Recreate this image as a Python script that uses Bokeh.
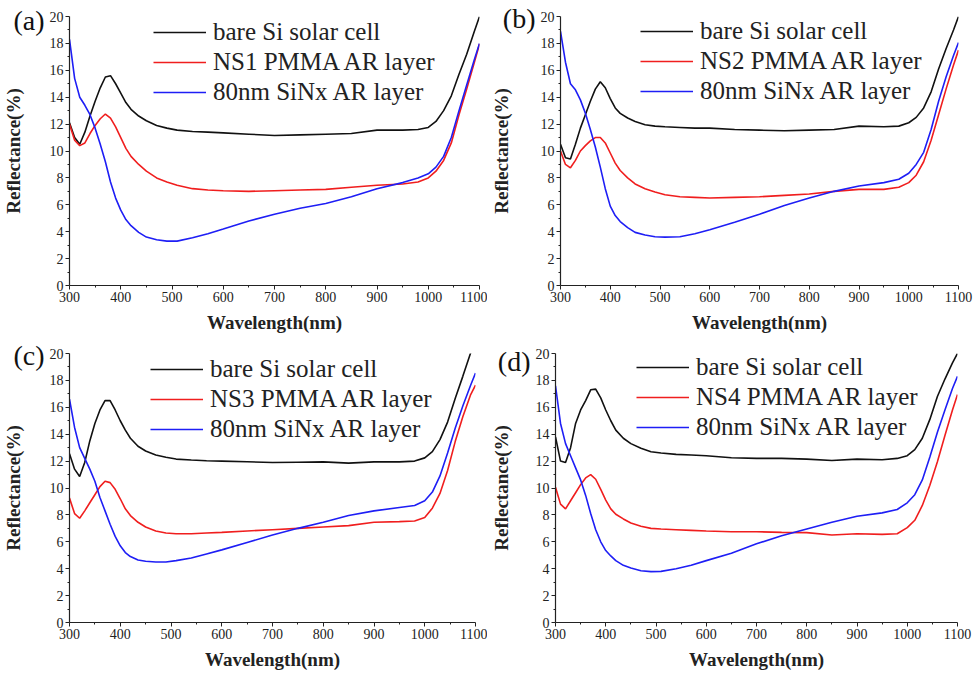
from bokeh.plotting import figure
from bokeh.models import Range1d, FixedTicker, Legend, LegendItem, LinearAxis
from bokeh.layouts import column, row
from bokeh.embed import file_html
from bokeh.resources import INLINE

# ---------------- data ----------------
WL = [300, 310, 320, 330, 340, 350, 360, 370, 380, 390,
      400, 410, 420, 435, 450, 470, 490, 510, 540, 570,
      600, 650, 700, 750, 800, 850, 900, 950, 980, 1000,
      1015, 1030, 1045, 1060, 1075, 1090, 1100]

X_TICKS = [300, 400, 500, 600, 700, 800, 900, 1000, 1100]
X_MINOR = [350, 450, 550, 650, 750, 850, 950, 1050]
Y_TICKS = [0, 2, 4, 6, 8, 10, 12, 14, 16, 18, 20]
Y_MINOR = [1, 3, 5, 7, 9, 11, 13, 15, 17, 19]

LABEL_BARE = "bare Si solar cell"
LABEL_SINX = "80nm SiNx AR layer"
LABELS_NS = ["NS1 PMMA AR layer", "NS2 PMMA AR layer", "NS3 PMMA AR layer", "NS4 PMMA AR layer"]
TAGS = ["(a)", "(b)", "(c)", "(d)"]

bare_a = [12.1, 11.0, 10.5, 11.4, 12.6, 13.7, 14.7, 15.5, 15.6, 15.0,
          14.3, 13.6, 13.1, 12.6, 12.25, 11.9, 11.7, 11.55, 11.45, 11.4,
          11.35, 11.25, 11.15, 11.2, 11.25, 11.3, 11.55, 11.55, 11.6, 11.75,
          12.2, 13.0, 14.1, 15.7, 17.2, 18.9, 20.0]
ns_a = [12.0, 10.8, 10.4, 10.6, 11.3, 11.9, 12.4, 12.75, 12.45, 11.8,
        11.0, 10.2, 9.6, 9.0, 8.5, 8.0, 7.7, 7.45, 7.2, 7.1,
        7.05, 7.0, 7.05, 7.1, 7.15, 7.3, 7.45, 7.55, 7.7, 8.0,
        8.5, 9.3, 10.6, 12.7, 14.6, 16.6, 17.95]
sinx_a = [18.3, 15.4, 14.0, 13.4, 12.7, 11.7, 10.5, 9.2, 7.7, 6.5,
          5.6, 4.9, 4.45, 3.95, 3.6, 3.4, 3.3, 3.3, 3.55, 3.85,
          4.2, 4.8, 5.3, 5.75, 6.1, 6.6, 7.2, 7.65, 8.0, 8.3,
          8.8, 9.6, 11.0, 13.0, 14.9, 16.8, 18.0]

bare_b = [10.5, 9.5, 9.4, 10.5, 11.7, 12.7, 13.7, 14.6, 15.15, 14.7,
          13.9, 13.2, 12.8, 12.45, 12.2, 11.95, 11.85, 11.8, 11.75, 11.7,
          11.7, 11.6, 11.55, 11.5, 11.55, 11.6, 11.85, 11.8, 11.85, 12.1,
          12.5, 13.2, 14.4, 16.1, 17.6, 19.0, 20.0]
ns_b = [10.0, 9.0, 8.75, 9.3, 10.0, 10.4, 10.75, 11.0, 11.0, 10.6,
        9.85, 9.1, 8.55, 8.0, 7.55, 7.2, 6.95, 6.75, 6.6, 6.55,
        6.5, 6.55, 6.6, 6.7, 6.8, 7.0, 7.15, 7.15, 7.3, 7.65,
        8.2, 9.2, 10.8, 12.7, 14.6, 16.4, 17.5]
sinx_b = [18.9, 16.6, 15.0, 14.55, 13.8, 12.8, 11.6, 10.3, 8.8, 7.2,
          5.9, 5.2, 4.75, 4.3, 3.95, 3.75, 3.62, 3.6, 3.63, 3.85,
          4.15, 4.7, 5.3, 5.95, 6.5, 7.0, 7.4, 7.65, 7.9, 8.35,
          9.0, 9.9, 11.6, 13.7, 15.5, 17.1, 18.07]

bare_c = [12.55, 11.4, 10.85, 11.9, 13.5, 14.8, 15.8, 16.5, 16.5, 15.8,
          15.0, 14.3, 13.7, 13.1, 12.75, 12.45, 12.28, 12.15, 12.08, 12.03,
          12.0, 11.95, 11.9, 11.92, 11.94, 11.85, 11.94, 11.94, 12.0, 12.24,
          12.7, 13.6, 14.9, 16.66, 18.3, 20.0, 21.0]
ns_c = [9.25, 8.1, 7.75, 8.3, 8.9, 9.5, 10.1, 10.5, 10.4, 9.9,
        9.2, 8.45, 7.95, 7.45, 7.1, 6.8, 6.65, 6.6, 6.6, 6.65,
        6.7, 6.8, 6.9, 7.0, 7.1, 7.2, 7.45, 7.5, 7.55, 7.8,
        8.5, 9.6, 11.3, 13.45, 15.3, 16.9, 17.65]
sinx_c = [16.6, 14.5, 13.0, 12.2, 11.4, 10.5, 9.3, 8.3, 7.3, 6.4,
          5.7, 5.2, 4.9, 4.65, 4.55, 4.5, 4.5, 4.6, 4.8, 5.1,
          5.4, 5.95, 6.5, 7.0, 7.45, 7.95, 8.3, 8.55, 8.7, 9.05,
          9.7, 10.9, 12.6, 14.45, 16.1, 17.6, 18.55]

bare_d = [13.8, 12.0, 11.9, 13.0, 14.8, 15.8, 16.5, 17.3, 17.35, 16.7,
          15.8, 15.0, 14.3, 13.7, 13.3, 12.95, 12.7, 12.6, 12.5, 12.45,
          12.4, 12.25, 12.2, 12.2, 12.15, 12.05, 12.15, 12.1, 12.2, 12.4,
          12.85, 13.7, 15.1, 16.8, 18.1, 19.3, 20.0]
ns_d = [10.05, 8.8, 8.45, 9.05, 9.65, 10.25, 10.75, 11.0, 10.65, 9.9,
        9.1, 8.45, 8.05, 7.7, 7.4, 7.15, 7.0, 6.95, 6.9, 6.85,
        6.8, 6.75, 6.75, 6.7, 6.68, 6.5, 6.6, 6.55, 6.6, 7.05,
        7.6, 8.7, 10.2, 11.95, 13.9, 15.8, 16.95]
sinx_d = [17.6, 14.8, 13.3, 12.4, 11.5, 10.6, 9.45, 8.1, 6.9, 6.0,
          5.35, 4.95, 4.6, 4.25, 4.05, 3.85, 3.78, 3.8, 4.0, 4.25,
          4.6, 5.15, 5.85, 6.45, 6.95, 7.45, 7.9, 8.15, 8.4, 8.9,
          9.5, 10.6, 12.3, 14.15, 15.8, 17.4, 18.3]

SERIES = [(bare_a, ns_a, sinx_a), (bare_b, ns_b, sinx_b),
          (bare_c, ns_c, sinx_c), (bare_d, ns_d, sinx_d)]

# ---------------- layout / style ----------------
FONT = "Liberation Serif"
W, H = 487, 338
# (left, right, top, bottom) borders per panel
BORDERS = [(67, 8, 16, 53), (63, 16, 15, 53), (69, 12, 13, 54), (64, 17, 15, 50)]
# legend offset from frame left, legend top below frame top, row height
LEG = [(84, 1, 30), (80, 1, 30), (81, 1, 30.5), (81, 1, 30.5)]
# panel tag vertical position (data units) and y-label standoff on outer axis
TAG_Y = [19.7, 19.85, 19.85, 19.4]
YLAB_STANDOFF = [-14, -12, -14, -17]

C_BARE = "#111111"
C_NS = "#f01e1e"
C_SINX = "#1e1ef5"
C_AX = "#222222"


def style_axis(ax):
    ax.axis_line_color = C_AX
    ax.axis_line_width = 1.2
    ax.major_tick_line_color = C_AX
    ax.minor_tick_line_color = C_AX
    ax.major_tick_in = 0
    ax.major_tick_out = 4
    ax.minor_tick_in = 0
    ax.minor_tick_out = 2
    ax.major_label_text_font = FONT
    ax.major_label_text_font_size = "14px"
    ax.major_label_text_color = C_AX
    ax.major_label_standoff = 2
    ax.axis_label_text_font = FONT
    ax.axis_label_text_font_size = "19px"
    ax.axis_label_text_font_style = "bold"
    ax.axis_label_text_color = C_AX


def make_panel(i):
    left, right, top, bottom = BORDERS[i]
    frame_h = H - top - bottom
    p = figure(width=W, height=H, x_range=Range1d(300, 1100), y_range=Range1d(0, 20),
               output_backend="svg", toolbar_location=None,
               min_border_left=left, min_border_right=right,
               min_border_top=top, min_border_bottom=bottom)
    p.outline_line_color = None
    p.grid.grid_line_color = None
    p.background_fill_color = "white"
    p.border_fill_color = "white"

    p.xaxis.ticker = FixedTicker(ticks=X_TICKS, minor_ticks=X_MINOR)
    p.yaxis.ticker = FixedTicker(ticks=Y_TICKS, minor_ticks=Y_MINOR)
    style_axis(p.xaxis[0])
    style_axis(p.yaxis[0])
    p.xaxis.axis_label = "Wavelength(nm)"
    p.xaxis.axis_label_standoff = 7

    # outer left axis: carries the panel tag and the y-axis title
    tag_axis = LinearAxis(ticker=FixedTicker(ticks=[TAG_Y[i]], minor_ticks=[]),
                          major_label_overrides={TAG_Y[i]: TAGS[i]})
    style_axis(tag_axis)
    tag_axis.axis_line_color = None
    tag_axis.major_tick_line_color = None
    tag_axis.minor_tick_line_color = None
    tag_axis.major_tick_out = 0
    tag_axis.minor_tick_out = 0
    tag_axis.major_label_text_font_size = "28px"
    tag_axis.major_label_text_color = "#111111"
    tag_axis.major_label_standoff = 2
    tag_axis.axis_label = "Reflectance(%)"
    tag_axis.axis_label_standoff = YLAB_STANDOFF[i]
    p.add_layout(tag_axis, "left")

    bare, ns, sinx = SERIES[i]
    r1 = p.line(WL, bare, line_color=C_BARE, line_width=1.6)
    r2 = p.line(WL, ns, line_color=C_NS, line_width=1.6)
    r3 = p.line(WL, sinx, line_color=C_SINX, line_width=1.6)

    lx, ltop, rh = LEG[i]
    ly = frame_h - ltop - 3 * rh
    legend = Legend(items=[LegendItem(label=LABEL_BARE, renderers=[r1]),
                           LegendItem(label=LABELS_NS[i], renderers=[r2]),
                           LegendItem(label=LABEL_SINX, renderers=[r3])],
                    location=(lx, ly), padding=0, margin=0, spacing=0,
                    glyph_width=53, glyph_height=int(rh), label_height=int(rh),
                    label_standoff=7, border_line_alpha=0, background_fill_alpha=0,
                    label_text_font=FONT, label_text_font_size="25px",
                    label_text_color="#222222")
    p.add_layout(legend)
    return p


panels = [make_panel(i) for i in range(4)]
layout = column(row(panels[0], panels[1]), row(panels[2], panels[3]))

open("out.html", "w").write(file_html(layout, INLINE))
